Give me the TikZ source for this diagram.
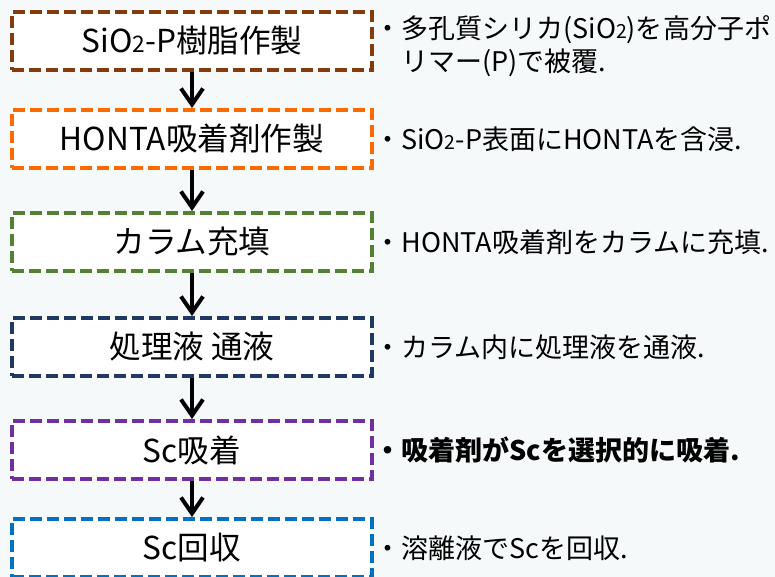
\documentclass[tikz,border=0pt]{standalone}
\usepackage{fontspec}
\setmainfont{Noto Sans CJK JP}
\usepackage{tikz}
\usetikzlibrary{positioning,arrows.meta}
\definecolor{bgcol}{HTML}{F5F9FA}
\definecolor{stepbrown}{HTML}{843C0C}
\definecolor{steporange}{HTML}{FF6A00}
\definecolor{stepgreen}{HTML}{548235}
\definecolor{stepnavy}{HTML}{203864}
\definecolor{steppurple}{HTML}{7030A0}
\definecolor{stepblue}{HTML}{0070C0}
\newcommand{\subtwo}{\scalebox{0.72}{2}}
\tikzset{%
  block/.style = {draw, line width=2pt, dash pattern=on 6pt off 2.5pt,
    fill=white, text=black, rectangle, minimum height=29pt, minimum width=180pt,
    font=\fontsize{15.8pt}{19pt}\selectfont},
  note/.style  = {inner sep=0pt, align=left,
    font=\fontsize{13.5pt}{16.5pt}\selectfont}, % explanation
  flow/.style  = {line width=2pt, -{Straight Barb[length=8pt,width=11pt]}}
}

\begin{document}
\begin{tikzpicture}[auto]
	\fill[bgcol] (0,0) rectangle (387.5pt,-288.5pt);
	\useasboundingbox (0,0) rectangle (387.5pt,-288.5pt);

	\draw node at (96pt,-20.5pt) [block, draw=stepbrown] (resin) {SiO\subtwo-P樹脂作製};
	\draw node [block, draw=steporange, below of=resin, node distance=49pt] (honta) {HONTA吸着剤作製};
	\draw node [block, draw=stepgreen, below of=honta, node distance=51.5pt] (pack) {カラム充填};
	\draw node [block, draw=stepnavy, below of=pack, node distance=52.5pt] (feed) {処理液 通液};
	\draw node [block, draw=steppurple, below of=feed, node distance=51.5pt] (adsorb) {Sc吸着};
	\draw node [block, draw=stepblue, below of=adsorb, node distance=49pt] (recover) {Sc回収};

	\draw node [note, right=0pt of resin, yshift=-2.5pt] (note1) {・多孔質シリカ(SiO\subtwo)を高分子ポ\\\phantom{・}リマー(P)で被覆.};
	\draw node [note, right=0pt of honta] (note2) {・SiO\subtwo-P表面にHONTAを含浸.};
	\draw node [note, right=0pt of pack] (note3) {・HONTA吸着剤をカラムに充填.};
	\draw node [note, right=0pt of feed] (note4) {・カラム内に処理液を通液.};
	\draw node [note, right=0pt of adsorb] (note5) {\textbf{・吸着剤がScを選択的に吸着.}};
	\draw node [note, right=0pt of recover] (note6) {・溶離液でScを回収.};

	\draw[flow] (resin) -- (honta);
	\draw[flow] (honta) -- (pack);
	\draw[flow] (pack) -- (feed);
	\draw[flow] (feed) -- (adsorb);
	\draw[flow] (adsorb) -- (recover);

\end{tikzpicture}
\end{document}
